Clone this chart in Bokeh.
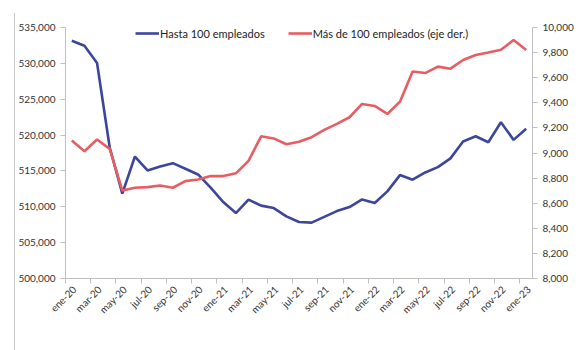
import math
from bokeh.plotting import figure
from bokeh.models import (Range1d, LinearAxis, FixedTicker, NumeralTickFormatter,
                          Legend, LegendItem)
from bokeh.embed import file_html
from bokeh.resources import INLINE

# ---- data ----
months = ["ene-20", "feb-20", "mar-20", "abr-20", "may-20", "jun-20", "jul-20", "ago-20",
          "sep-20", "oct-20", "nov-20", "dic-20", "ene-21", "feb-21", "mar-21", "abr-21",
          "may-21", "jun-21", "jul-21", "ago-21", "sep-21", "oct-21", "nov-21", "dic-21",
          "ene-22", "feb-22", "mar-22", "abr-22", "may-22", "jun-22", "jul-22", "ago-22",
          "sep-22", "oct-22", "nov-22", "dic-22", "ene-23"]
hasta_100 = [533150, 532450, 530050, 518300, 511830, 517010, 515070, 515620, 516080,
             515300, 514510, 512660, 510660, 509130, 510990, 510160, 509820, 508670,
             507880, 507790, 508600, 509400, 509960, 511030, 510520, 512150, 514420,
             513780, 514790, 515530, 516750, 519100, 519840, 519000, 521790, 519330,
             520870]
mas_100 = [9099, 9014, 9107, 9033, 8702, 8723, 8728, 8741, 8723, 8776, 8789, 8816,
           8816, 8838, 8937, 9133, 9116, 9070, 9090, 9126, 9184, 9232, 9285, 9391,
           9375, 9311, 9409, 9650, 9637, 9688, 9672, 9741, 9781, 9801, 9823, 9900,
           9820]
left_ticks = [500000, 505000, 510000, 515000, 520000, 525000, 530000, 535000]
right_ticks = [8000, 8200, 8400, 8600, 8800, 9000, 9200, 9400, 9600, 9800, 10000]
label_hasta = "Hasta 100 empleados"
label_mas = "Más de 100 empleados (eje der.)"

BLUE = "#3C479C"
RED = "#E85D63"
AXIS = "#BFBFBF"
TXT = "#333333"
FONT = "Lato"

n = len(months)
x = [i + 0.5 for i in range(n)]
x_tick_pos = list(range(0, n, 2))
label_shift = 0.7  # rotated labels sit slightly right of their tick marks
x_label_pos = [t + label_shift for t in x_tick_pos]

p = figure(width=569, height=337, output_backend="svg", toolbar_location=None,
           x_range=Range1d(0, n), y_range=Range1d(left_ticks[0], left_ticks[-1]),
           min_border_left=48, min_border_right=52, min_border_top=14,
           min_border_bottom=72, x_axis_location="below", y_axis_location="left")
p.styles = {"margin-left": "14px", "margin-top": "13px",
            "border-left": "1px solid #C8C8C8"}
p.extra_y_ranges = {"right": Range1d(right_ticks[0], right_ticks[-1])}
p.grid.visible = False
p.outline_line_color = None
p.background_fill_color = "white"
p.border_fill_color = "white"

r1 = p.line(x, hasta_100, line_color=BLUE, line_width=2.6)
r2 = p.line(x, mas_100, line_color=RED, line_width=2.6, y_range_name="right")

right_axis = LinearAxis(y_range_name="right")
p.add_layout(right_axis, "right")


def style_axis(ax):
    ax.axis_line_color = AXIS
    ax.major_tick_line_color = AXIS
    ax.major_tick_in = 0
    ax.major_tick_out = 5
    ax.minor_tick_line_color = None
    ax.major_label_text_font = FONT
    ax.major_label_text_font_size = "10px"
    ax.major_label_text_color = TXT


yl = p.yaxis[0]
yl.ticker = FixedTicker(ticks=left_ticks)
yl.formatter = NumeralTickFormatter(format="0,0")
style_axis(yl)
yl.major_label_standoff = 5

right_axis.ticker = FixedTicker(ticks=right_ticks)
right_axis.formatter = NumeralTickFormatter(format="0,0")
style_axis(right_axis)
right_axis.major_label_standoff = 5

# x axis: visible tick marks at month boundaries (minor ticks),
# rotated labels at a small offset (major ticks, no tick line)
xa = p.xaxis[0]
xa.ticker = FixedTicker(ticks=x_label_pos, minor_ticks=x_tick_pos)
xa.major_label_overrides = {t + label_shift: months[t] for t in x_tick_pos}
xa.major_label_orientation = math.pi / 4
style_axis(xa)
xa.major_tick_line_color = None
xa.major_tick_out = 5
xa.minor_tick_line_color = AXIS
xa.minor_tick_in = 0
xa.minor_tick_out = 5
xa.major_label_standoff = 4

legend = Legend(items=[LegendItem(label=label_hasta, renderers=[r1]),
                       LegendItem(label=label_mas, renderers=[r2])],
                orientation="horizontal", location=(70, 238), glyph_width=24,
                glyph_height=14, label_standoff=1, spacing=23, padding=0, margin=0,
                border_line_color=None, background_fill_alpha=0,
                label_text_font=FONT, label_text_font_size="11px",
                label_text_color="#222222")
p.add_layout(legend)

open("out.html", "w").write(file_html(p, INLINE))
